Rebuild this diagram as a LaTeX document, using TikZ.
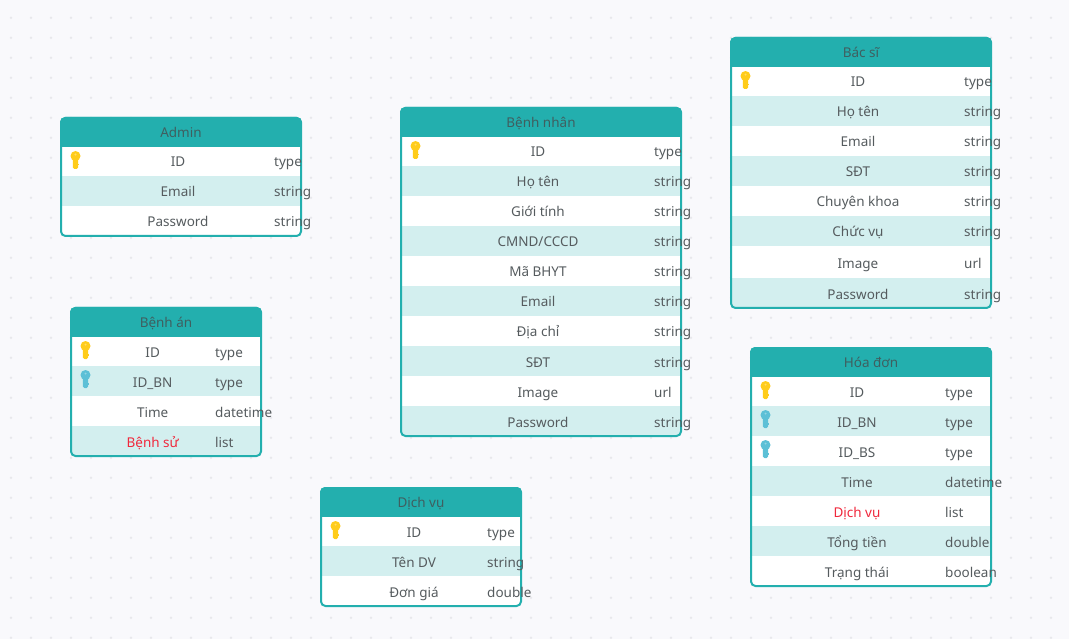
\documentclass[tikz,border=0pt]{standalone}
\usepackage{fontspec}
\setmainfont{Noto Sans}
\definecolor{bgc}{HTML}{F9F9FC}
\definecolor{dotc}{HTML}{E8E8EC}
\definecolor{teal}{HTML}{23AFAE}
\definecolor{rowc}{HTML}{D3EFEF}
\definecolor{txtc}{HTML}{555B5E}
\definecolor{headtxt}{HTML}{3F5F60}
\definecolor{redc}{HTML}{F0283C}
\definecolor{pk}{HTML}{FFCC1A}
\definecolor{fk}{HTML}{5CC0D6}
\tikzset{
  x=1pt,y=-1pt,
  cell/.style={font=\fontsize{13.5}{16}\selectfont,text=txtc,inner sep=0pt,anchor=base},
  typecell/.style={cell,anchor=base west},
  titlecell/.style={cell,text=headtxt},
  frame/.style={draw=teal,line width=2pt,rounded corners=4.5pt},
}
% key icon centred at #1, colour #2
\newcommand{\keyicon}[2]{%
  \begin{scope}[shift={(#1)}]
    \fill[#2] (0,-5) circle (5);
    \fill[#2] (-2.6,-2) -- (2.6,-2) -- (2.6,6.5) -- (1,8) -- (-1,8) -- (-2.6,6.5) -- cycle;
    \fill[#2] (2,3) rectangle (3.2,4.5);
    \fill[white,opacity=.35] (0,-6.4) circle (1.1);
  \end{scope}}
% \erdtable{id}{x0}{y0}{x1}{y1}{title}{labelcx}{typex}{rows: top/bottom/fill/key/label/colour/type}
\newcommand{\erdtable}[9]{%
  \fill[white,rounded corners=5pt] (#2,#3) rectangle (#4,#5);
  \foreach \rt/\rb/\rf/\rk/\rl/\rc/\rty in {#9}{%
    \fill[\rf] (#2+2,\rt) rectangle (#4-2,\rb);
  }
  \draw[frame] (#2+1,#3+1) rectangle (#4-1,#5-1);
  \fill[teal,rounded corners=5pt] (#2,#3+10) -- (#2,#3) -- (#4,#3) -- (#4,#3+10) -- cycle;
  \fill[teal] (#2,#3+6) rectangle (#4,#3+30);
  \node[titlecell] (#1-title) at ({(#2+#4)/2},#3+20.5) {#6};
  \foreach \rt/\rb/\rf/\rk/\rl/\rc/\rty [count=\ri] in {#9}{%
    \ifx\rk\empty\else\keyicon{#2+15.5,\rt+14}{\rk}\fi
    \node[cell,text=\rc] (#1-l\ri) at (#7,\rb-9) {\rl};
    \node[typecell] (#1-t\ri) at (#8,\rb-9) {\rty};
  }
}
\begin{document}
\begin{tikzpicture}
\useasboundingbox (0,0) rectangle (1069,639);
\fill[bgc] (0,0) rectangle (1069,639);
\foreach \i in {0,...,53}{\foreach \j in {0,...,31}{\fill[dotc] (11+20*\i,17.7+20*\j) circle (1.4);}}
\erdtable{admin}{60}{117}{302}{237}{Admin}{178}{274}{
147/176/white/pk/ID/txtc/type,
176/206/rowc//Email/txtc/string,
206/236/white//Password/txtc/string}
\erdtable{benhan}{70}{307}{262}{457}{Bệnh án}{152.7}{215}{
337/366/white/pk/ID/txtc/type,
366/396/rowc/fk/ID\_BN/txtc/type,
396/426/white//Time/txtc/datetime,
426/456/rowc//Bệnh sử/redc/list}
\erdtable{benhnhan}{400}{107}{682}{437}{Bệnh nhân}{538}{654}{
137/166/white/pk/ID/txtc/type,
166/196/rowc//Họ tên/txtc/string,
196/226/white//Giới tính/txtc/string,
226/256/rowc//{CMND/CCCD}/txtc/string,
256/286/white//Mã BHYT/txtc/string,
286/316/rowc//Email/txtc/string,
316/346/white//Địa chỉ/txtc/string,
346/376/rowc//SĐT/txtc/string,
376/406/white//Image/txtc/url,
406/436/rowc//Password/txtc/string}
\erdtable{dichvu}{320}{487}{522}{607}{Dịch vụ}{414}{487}{
517/546/white/pk/ID/txtc/type,
546/576/rowc//Tên DV/txtc/string,
576/606/white//Đơn giá/txtc/double}
\erdtable{bacsi}{730}{37}{992}{309}{Bác sĩ}{858}{964}{
67/96/white/pk/ID/txtc/type,
96/126/rowc//Họ tên/txtc/string,
126/156/white//Email/txtc/string,
156/186/rowc//SĐT/txtc/string,
186/216/white//Chuyên khoa/txtc/string,
216/246/rowc//Chức vụ/txtc/string,
246/278/white//Image/txtc/url,
278/308/rowc//Password/txtc/string}
\erdtable{hoadon}{750}{347}{992}{587}{Hóa đơn}{857}{945}{
377/406/white/pk/ID/txtc/type,
406/436/rowc/fk/ID\_BN/txtc/type,
436/466/white/fk/ID\_BS/txtc/type,
466/496/rowc//Time/txtc/datetime,
496/526/white//Dịch vụ/redc/list,
526/556/rowc//Tổng tiền/txtc/double,
556/586/white//Trạng thái/txtc/boolean}
\end{tikzpicture}
\end{document}
